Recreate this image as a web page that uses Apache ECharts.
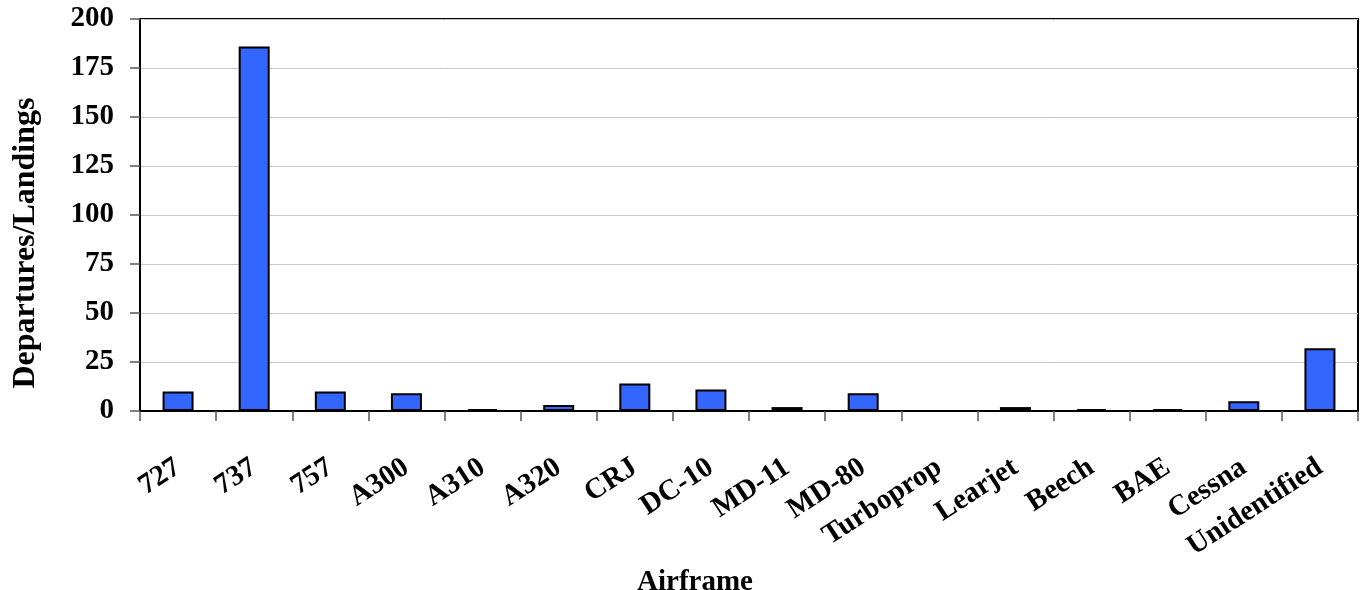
<!DOCTYPE html>
<html>
<head>
<meta charset="utf-8">
<script src="https://cdn.jsdelivr.net/npm/echarts@6/dist/echarts.min.js"></script>
<style>
html,body{margin:0;padding:0;background:#fff;}
#chart{width:1368px;height:590px;}
</style>
</head>
<body>
<div id="chart"></div>
<script>
const categories = ['727','737','757','A300','A310','A320','CRJ','DC-10','MD-11','MD-80','Turboprop','Learjet','Beech','BAE','Cessna','Unidentified'];
const values = [10,186,10,9,1,3,14,11,2,9,0,2,1,1,5,32];
const yTicks = [0,25,50,75,100,125,150,175,200];

const FONT = '"Liberation Serif", "Times New Roman", serif';
const chart = echarts.init(document.getElementById('chart'));
chart.setOption({
  animation: false,
  backgroundColor: '#fff',
  grid: {left: 140, right: 10, top: 19, bottom: 179, show: true, borderColor: '#000', borderWidth: 2, containLabel: false, outerBoundsMode: 'none'},
  xAxis: {
    type: 'category',
    data: categories,
    name: 'Airframe',
    nameLocation: 'middle',
    nameGap: 140,
    nameTextStyle: {fontFamily: FONT, fontWeight: 'bold', fontSize: 29, color: '#000', padding: [0, 108, 0, 0]},
    axisLine: {lineStyle: {color: '#000', width: 2}},
    axisTick: {show: true, length: 10, lineStyle: {color: '#555', width: 1.5}},
    axisLabel: {rotate: 33, margin: 54, interval: 0, fontFamily: FONT, fontWeight: 'bold', fontSize: 29, color: '#000'},
    splitLine: {show: false}
  },
  yAxis: {
    type: 'value',
    min: yTicks[0],
    max: yTicks[yTicks.length - 1],
    interval: 25,
    name: 'Departures/Landings',
    nameLocation: 'middle',
    nameGap: 98,
    nameTextStyle: {fontFamily: FONT, fontWeight: 'bold', fontSize: 32, color: '#000', padding: [0, 56, 0, 0]},
    axisLine: {show: true, lineStyle: {color: '#000', width: 2}},
    axisTick: {show: true, length: 10, lineStyle: {color: '#555', width: 1.5}},
    axisLabel: {margin: 26, fontFamily: FONT, fontWeight: 'bold', fontSize: 29, color: '#000'},
    splitLine: {show: true, lineStyle: {color: '#c8c8c8', width: 1}}
  },
  series: [{
    type: 'bar',
    data: values,
    barWidth: 31,
    itemStyle: {color: '#3366FF', borderColor: '#000', borderWidth: 2}
  }]
});
</script>
</body>
</html>
